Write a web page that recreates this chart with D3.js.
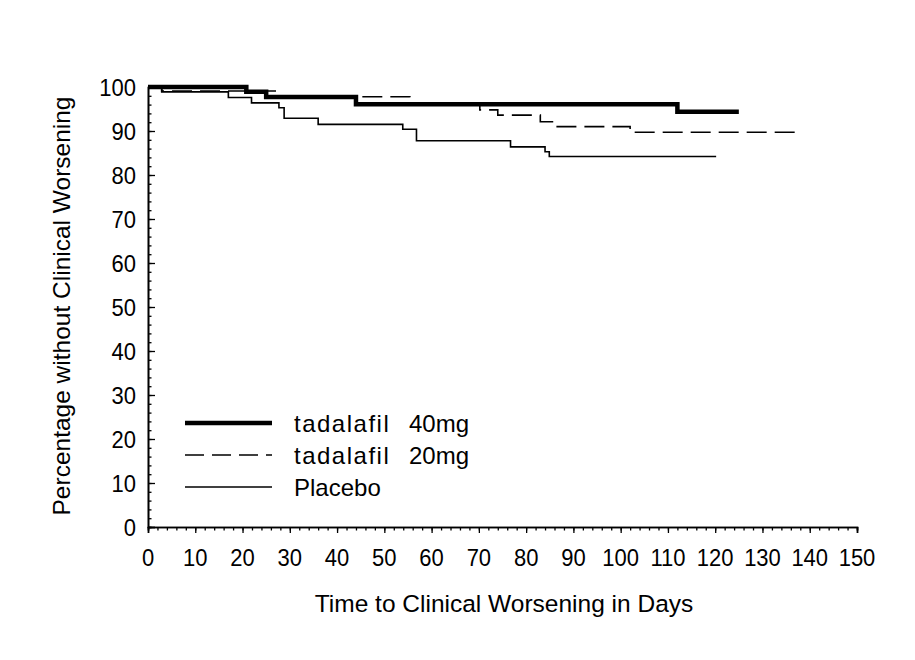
<!DOCTYPE html>
<html>
<head>
<meta charset="utf-8">
<script src="https://cdn.jsdelivr.net/npm/d3@7"></script>
<style>
  body { margin: 0; background: #fff; }
  text { font-family: "Liberation Sans", Arial, sans-serif; fill: #000; }
</style>
</head>
<body>
<svg></svg>
<script>
const size = {w: 915, h: 660};
const svg = d3.select('svg')
    .attr('width', size.w)
    .attr('height', size.h);

// step curves: day of each step and % after it
const days40 = [0, 20.8, 25, 44, 112, 125];
const pct40  = [100, 98.9, 97.7, 96.1, 94.4, 94.4];

const days20 = [0, 2.9, 27.5, 55.4, 70.2, 74, 83, 86.1, 102, 137.2];
const pct20  = [100, 99.1, 97.8, 96.1, 94.8, 93.6, 92.1, 91.0, 89.7, 89.7];

const daysPbo = [0, 2.9, 17, 21.9, 27.7, 28.8, 36, 53.9, 56.8, 76.7, 84, 84.9, 120.2];
const pctPbo  = [100, 98.9, 97.6, 96.4, 95.3, 92.9, 91.5, 90.4, 87.8, 86.4, 85.3, 84.2, 84.2];

const xTicks = d3.range(0, 151, 10);
const yTicks = d3.range(0, 101, 10);
const legendLabels = ['tadalafil', 'tadalafil', 'Placebo'];
const legendDoses = ['40mg', '20mg', ''];

// scales
const x = d3.scaleLinear().domain([0, 150]).range([148, 857]);
const y = d3.scaleLinear().domain([0, 100]).range([527, 87]);

// axes, minor ticks first then major
const gx = svg.append('g').attr('transform', `translate(0,${y(0)})`);
gx.call(d3.axisBottom(x).tickValues(d3.range(0, 151, 2)).tickSize(3.5).tickFormat(''));
gx.call(g => g.append('g').call(d3.axisBottom(x).tickValues(xTicks).tickSize(6).tickFormat('')));

const gy = svg.append('g').attr('transform', `translate(${x(0)},0)`);
gy.call(d3.axisRight(y).tickValues(d3.range(0, 101, 2)).tickSize(3.5).tickFormat(''));
gy.call(g => g.append('g').call(d3.axisRight(y).tickValues(yTicks).tickSize(7).tickFormat('')));

svg.selectAll('.domain').attr('stroke', '#000').attr('stroke-width', 1.6);
svg.selectAll('.tick line').attr('stroke', '#000').attr('stroke-width', 1.3);

// tick labels, slightly stretched vertically like the source image
svg.append('g').selectAll('text')
    .data(xTicks)
    .join('text')
    .attr('transform', d => `translate(${x(d)},566) scale(1,1.12)`)
    .attr('text-anchor', 'middle')
    .style('font-size', '22px')
    .text(d => d);

svg.append('g').selectAll('text')
    .data(yTicks)
    .join('text')
    .attr('transform', d => `translate(136,${y(d) + 9}) scale(1,1.12)`)
    .attr('text-anchor', 'end')
    .style('font-size', '22px')
    .text(d => d);

// curves
const line = d3.line()
    .x(d => x(d[0]))
    .y(d => y(d[1]))
    .curve(d3.curveStepAfter);

const series = [
    {days: days20, pct: pct20, w: 1.6, dash: '20,8'},
    {days: daysPbo, pct: pctPbo, w: 1.6, dash: null},
    {days: days40, pct: pct40, w: 4.5, dash: null}
];

svg.append('g').selectAll('path')
    .data(series)
    .join('path')
    .attr('d', s => line(d3.zip(s.days, s.pct)))
    .attr('fill', 'none')
    .attr('stroke', '#000')
    .attr('stroke-width', s => s.w)
    .attr('stroke-dasharray', s => s.dash);

// legend
const legStyles = [{w: 4.5, dash: null}, {w: 1.6, dash: '19,8'}, {w: 1.6, dash: null}];
const legG = svg.append('g');
legendLabels.forEach((lab, i) => {
    const ly = 423 + i * 32;
    legG.append('line')
        .attr('x1', 185).attr('x2', 272)
        .attr('y1', ly).attr('y2', ly)
        .attr('stroke', '#000')
        .attr('stroke-width', legStyles[i].w)
        .attr('stroke-dasharray', legStyles[i].dash);
    const t = legG.append('text')
        .attr('x', 294)
        .attr('y', ly + 9)
        .style('font-size', '24px');
    t.append('tspan')
        .style('letter-spacing', lab === 'tadalafil' ? '1.5px' : null)
        .text(lab);
    if (legendDoses[i]) {
        t.append('tspan').attr('x', 409).text(legendDoses[i]);
    }
});

// axis titles
svg.append('text')
    .attr('x', 504)
    .attr('y', 612)
    .attr('text-anchor', 'middle')
    .style('font-size', '24.5px')
    .text('Time to Clinical Worsening in Days');

svg.append('text')
    .attr('transform', 'translate(70,306) rotate(-90)')
    .attr('text-anchor', 'middle')
    .style('font-size', '24.5px')
    .text('Percentage without Clinical Worsening');
</script>
</body>
</html>
